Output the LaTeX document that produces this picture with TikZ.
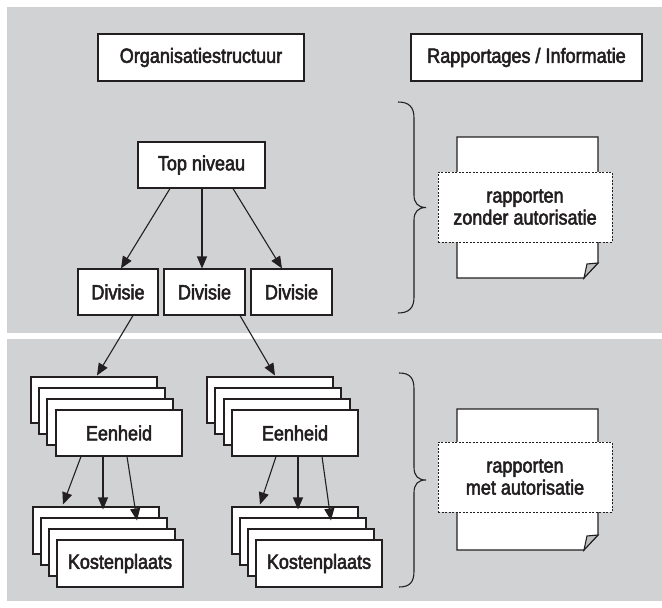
\documentclass[tikz,border=0pt]{standalone}
\usepackage{fontspec}
\setmainfont{Liberation Sans}[FakeStretch=0.88,FakeBold=2.5]
\usetikzlibrary{arrows.meta,calc}
\definecolor{panel}{RGB}{209,210,212}
\definecolor{ink}{RGB}{35,31,32}
\definecolor{foldgray}{RGB}{190,191,193}
\tikzset{
  lbl/.style={font=\fontsize{20.5}{22}\selectfont, text=ink},
  boxnode/.style={lbl, draw=ink, fill=white, line width=1.1pt, inner sep=0pt, anchor=center},
  dashbox/.style={lbl, draw=ink, fill=white, line width=0.9pt, dash pattern=on 2pt off 1.5pt, inner sep=0pt, align=center, minimum width=174pt, minimum height=70pt},
  arr/.style={draw=ink, line width=1.1pt, -{Triangle[length=12pt,width=10pt]}},
  bracestyle/.style={draw=ink, line width=1.1pt},
  docshape/.style={draw=ink, fill=white, line width=1.1pt, line join=miter}
}
\begin{document}
\begin{tikzpicture}[x=1pt,y=-1pt]
\useasboundingbox (0,0) rectangle (662,608);
% panels
\fill[panel] (7,7) rectangle (662,333);
\fill[panel] (7,339) rectangle (662,601);

% headers
\node[boxnode, minimum width=206pt, minimum height=47pt] (org) at (201,57.5) {Organisatiestructuur};
\node[boxnode, minimum width=231pt, minimum height=47pt] (rap) at (526.5,57.5) {Rapportages / Informatie};

% top level
\node[boxnode, minimum width=127pt, minimum height=46pt] (top) at (201.5,165) {Top niveau};
\node[boxnode, minimum width=80pt, minimum height=46pt] (div1) at (118,292) {Divisie};
\node[boxnode, minimum width=81pt, minimum height=46pt] (div2) at (204.5,292) {Divisie};
\node[boxnode, minimum width=81pt, minimum height=46pt] (div3) at (291.5,292) {Divisie};

\draw[arr] ($(top.south)+(-31.5,0)$) -- ($(div1.north)+(3,0)$);
\draw[arr] ($(top.south)+(0.5,0)$) -- ($(div2.north)+(-2.5,0)$);
\draw[arr] ($(top.south)+(31.5,0)$) -- ($(div3.north)+(-9.5,0)$);

% Eenheid stacks
\tikzset{ebox/.style={boxnode, minimum width=126pt, minimum height=46pt}}
\node[ebox] (e1a) at (94,400) {};
\node[ebox] (e1b) at (102,411) {};
\node[ebox] (e1c) at (110,422) {};
\node[ebox] (e1d) at (119,433) {Eenheid};
\node[ebox] (e2a) at (270,400) {};
\node[ebox] (e2b) at (278,411) {};
\node[ebox] (e2c) at (287,422) {};
\node[ebox] (e2d) at (295,433) {Eenheid};

\draw[arr] ($(div1.south)+(15,0)$) -- ($(e1a.north)+(3,-1)$);
\draw[arr] ($(div2.south)+(35.5,0)$) -- ($(e2a.north)+(5,-1)$);

% Kostenplaats stacks
\tikzset{kbox/.style={boxnode, minimum width=126pt, minimum height=47pt}}
\node[kbox] (k1a) at (96,530.5) {};
\node[kbox] (k1b) at (104,541.5) {};
\node[kbox] (k1c) at (112,552.5) {};
\node[kbox] (k1d) at (120,563.5) {Kostenplaats};
\node[kbox] (k2a) at (295,530.5) {};
\node[kbox] (k2b) at (303,541.5) {};
\node[kbox] (k2c) at (311,552.5) {};
\node[kbox] (k2d) at (319,563.5) {Kostenplaats};

\draw[arr] ($(e1d.south)+(-38,0)$) -- ($(k1a.north)+(-33,-2)$);
\draw[arr] ($(e1d.south)+(-16,0)$) -- ($(k1a.north)+(7,3)$);
\draw[arr] ($(e1d.south)+(8,0)$) -- ($(k1b.north)+(33,3)$);
\draw[arr] ($(e2d.south)+(-19,0)$) -- ($(k2a.north)+(-35,-2)$);
\draw[arr] ($(e2d.south)+(3,0)$) -- ($(k2a.north)+(3,3)$);
\draw[arr] ($(e2d.south)+(27,0)$) -- ($(k2b.north)+(28,3)$);

% braces
\draw[bracestyle] (398,102) .. controls (409,102) and (414,107) .. (414,118)
  -- (414,195) .. controls (414,203) and (418,207.5) .. (426,207.5)
  .. controls (418,207.5) and (414,212) .. (414,220)
  -- (414,297) .. controls (414,308) and (409,313) .. (398,313);
\draw[bracestyle] (399,373) .. controls (410,373) and (414,378) .. (414,389)
  -- (414,467) .. controls (414,476) and (418,480) .. (426,480)
  .. controls (418,480) and (414,484) .. (414,493)
  -- (414,571) .. controls (414,582) and (410,587) .. (399,587);

% documents
\draw[docshape] (457,137) -- (598,137) -- (598,263) -- (584,278) -- (457,278) -- cycle;
\draw[docshape, fill=foldgray] (598,263) -- (584,278) -- (587,264) -- cycle;
\node[dashbox] (doc1) at (525,207) {rapporten\\zonder autorisatie};

\draw[docshape] (457,409) -- (598,409) -- (598,535) -- (584,550) -- (457,550) -- cycle;
\draw[docshape, fill=foldgray] (598,535) -- (584,550) -- (587,536) -- cycle;
\node[dashbox] (doc2) at (525,477) {rapporten\\met autorisatie};
\end{tikzpicture}
\end{document}
